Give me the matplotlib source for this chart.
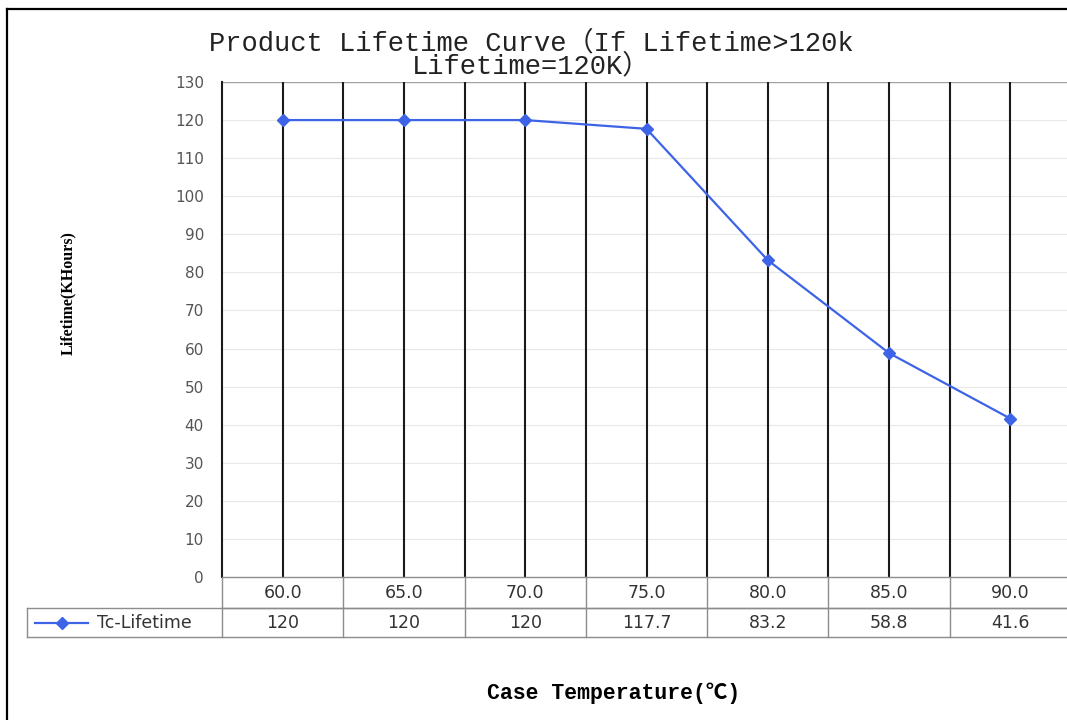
import matplotlib
matplotlib.use('Agg')
import matplotlib.pyplot as plt
from matplotlib.lines import Line2D
import numpy as np

temps = ['60.0', '65.0', '70.0', '75.0', '80.0', '85.0', '90.0']
lifetime = [120, 120, 120, 117.7, 83.2, 58.8, 41.6]
lifetime_labels = ['120', '120', '120', '117.7', '83.2', '58.8', '41.6']
series_name = 'Tc-Lifetime'
yticks = list(range(0, 131, 10))

blue = '#3d63e6'
grey = '#8c8c8c'
mono = ['Liberation Mono', 'DejaVu Sans Mono', 'Noto Sans CJK SC']

fig = plt.figure(figsize=(10.67, 7.2), dpi=100)
W, H = 1067, 720
ax = fig.add_axes([222 / W, 1 - 577 / H, (1071 - 222) / W, (577 - 82) / H])

x = np.arange(len(temps))
ax.set_xlim(-0.5, len(temps) - 0.5)
ax.set_ylim(0, 130)
ax.set_yticks(yticks)
ax.set_xticks([])
ax.tick_params(axis='y', length=0, pad=13, labelsize=11, labelcolor='#555555')

# faint horizontal grid, darker top line
for v in yticks[1:-1]:
    ax.axhline(v, color='#e8e8e8', lw=0.8, zorder=1)
ax.axhline(130, color='#a0a0a0', lw=1.0, zorder=1)

# black vertical lines at category centres and boundaries
ax.vlines(x, 0, 130, color='#1a1a1a', lw=1.5, zorder=2)
ax.vlines(x[:-1] + 0.5, 0, 130, color='#1a1a1a', lw=1.5, zorder=2)

for s in ['top', 'right']:
    ax.spines[s].set_visible(False)
ax.spines['left'].set_color('#1a1a1a')
ax.spines['left'].set_linewidth(1.5)
ax.spines['bottom'].set_color(grey)
ax.spines['bottom'].set_linewidth(1.0)

ax.plot(x, lifetime, color=blue, lw=1.6, marker='D', markersize=6.5, zorder=3)

# data table below the axes
tr = ax.get_xaxis_transform()
row1 = -31 / 495
row2 = -60 / 495
leg_left = (27 - 222) / 121.3 - 0.5
right = len(temps) - 0.5
kw = dict(transform=tr, clip_on=False, color=grey, lw=1.0)
ax.add_line(Line2D([-0.5, right], [row1, row1], **kw))
ax.add_line(Line2D([leg_left, right], [row1, row1], **kw))
ax.add_line(Line2D([leg_left, right], [row2, row2], **kw))
ax.add_line(Line2D([leg_left, leg_left], [row1, row2], **kw))
ax.add_line(Line2D([-0.5, -0.5], [0, row2], **kw))
for b in x[:-1] + 0.5:
    ax.add_line(Line2D([b, b], [0, row2], **kw))

for i in range(len(temps)):
    ax.text(x[i], row1 / 2, temps[i], transform=tr, ha='center', va='center',
            fontsize=12.5, color='#333333', clip_on=False)
    ax.text(x[i], (row1 + row2) / 2, lifetime_labels[i], transform=tr,
            ha='center', va='center', fontsize=12.5, color='#333333', clip_on=False)

# legend key in table
ly = (row1 + row2) / 2
lx0 = (35 - 222) / 121.3 - 0.5
lx1 = (88 - 222) / 121.3 - 0.5
ax.add_line(Line2D([lx0, lx1], [ly, ly], transform=tr, clip_on=False,
                   color=blue, lw=1.6))
ax.add_line(Line2D([(lx0 + lx1) / 2], [ly], transform=tr, clip_on=False,
                   color=blue, marker='D', markersize=6.5))
ax.text((97 - 222) / 121.3 - 0.5, ly, series_name, transform=tr, ha='left',
        va='center', fontsize=12.5, color='#333333', clip_on=False)

# titles
fig.text(531 / W, 1 - 55 / H, 'Product Lifetime Curve（If Lifetime>120k\nLifetime=120K）',
         ha='center', va='center', fontsize=19.5, family=mono, color='#222222',
         linespacing=0.88)
fig.text(68 / W, 1 - 293 / H, 'Lifetime(KHours)', rotation=90, ha='center',
         va='center', fontsize=11.5, fontweight='bold',
         family=['Liberation Serif', 'DejaVu Serif'])
fig.text(614 / W, 1 - 693 / H, 'Case Temperature(℃)', ha='center', va='center',
         fontsize=15.5, fontweight='bold', family=mono)

# outer frame
fig.add_artist(Line2D([7 / W, 7 / W], [0, 1 - 9 / H], color='black', lw=1.6,
                      transform=fig.transFigure))
fig.add_artist(Line2D([7 / W, 1], [1 - 9 / H, 1 - 9 / H], color='black', lw=1.6,
                      transform=fig.transFigure))

fig.savefig('out.png', dpi=100)
